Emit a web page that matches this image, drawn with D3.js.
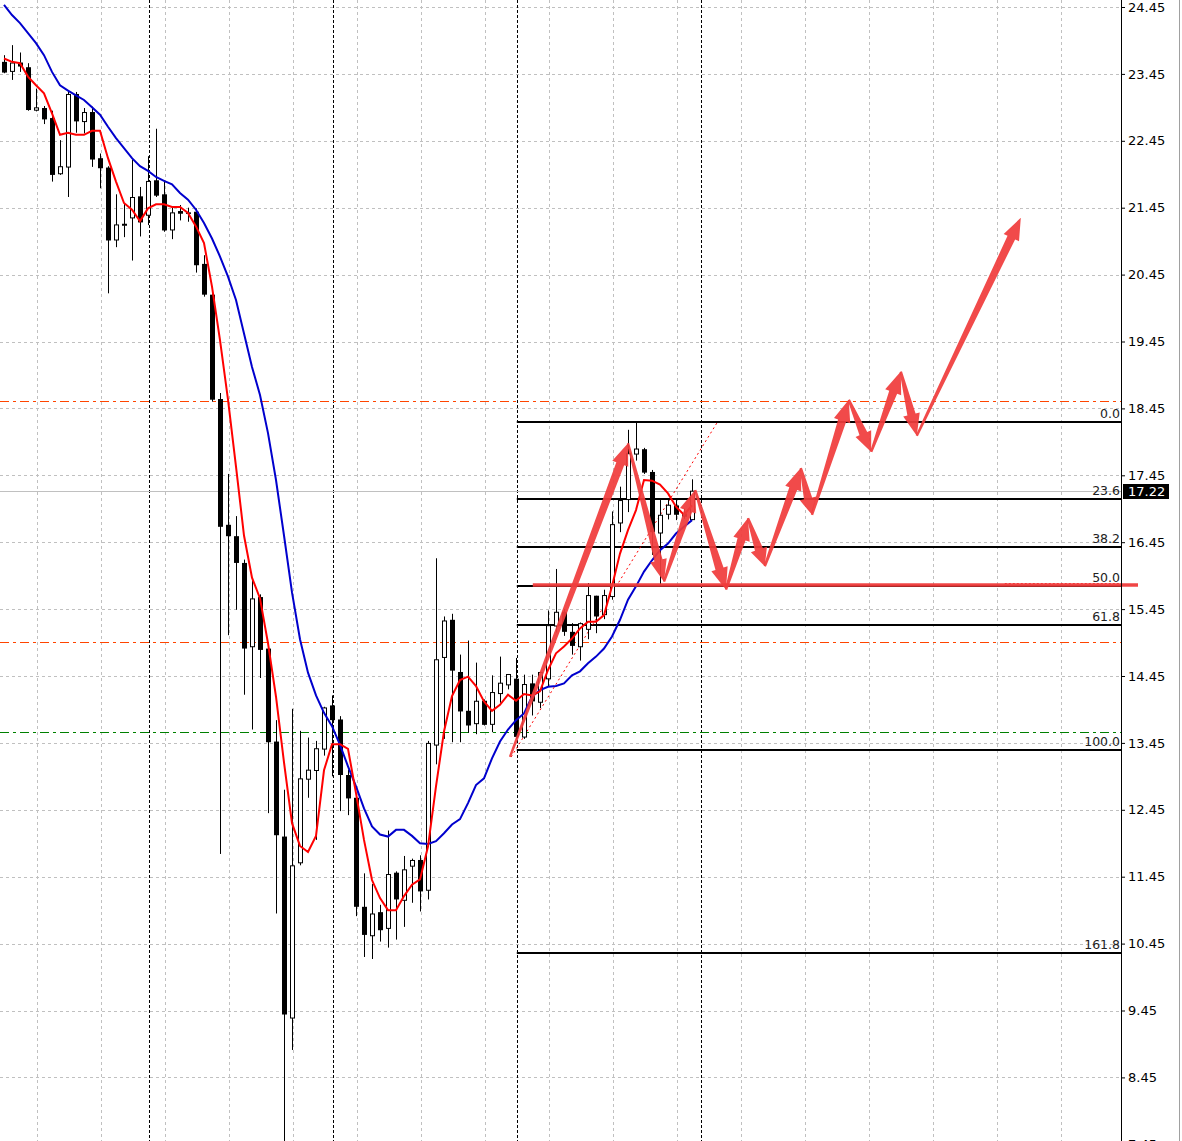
<!DOCTYPE html>
<html><head><meta charset="utf-8">
<script src="https://cdn.jsdelivr.net/npm/d3@7"></script>
<style>html,body{margin:0;padding:0;background:#fff;overflow:hidden}</style>
</head><body><svg id="chart" width="1182" height="1141"></svg>
<script>
// ---- candle data (index 0..86) ----
const openP = [23.63,23.48,23.62,23.55,22.90,22.94,22.79,21.95,22.05,23.15,
  22.73,22.88,22.19,22.05,20.96,21.20,21.29,21.62,21.33,21.86,
  21.65,21.11,21.40,21.38,21.39,20.61,20.15,18.59,16.71,16.54,
  16.14,14.88,15.63,14.86,13.47,12.05,9.33,11.65,12.90,13.03,
  13.35,14.01,13.80,12.97,12.63,11.00,10.56,10.92,10.67,11.51,
  11.09,11.60,11.70,11.24,13.41,14.72,15.29,14.51,13.93,13.73,
  14.08,13.72,14.18,14.31,14.41,13.53,14.34,14.05,14.40,15.19,
  15.41,15.11,14.88,15.14,15.65,15.36,15.63,16.73,17.08,17.76,
  17.84,17.50,16.58,16.86,17.00,16.88,16.78];
const highP = [23.73,23.88,23.77,23.61,23.23,22.97,22.90,22.46,23.21,23.18,
  22.94,22.96,22.26,22.07,21.65,21.51,22.17,21.76,22.22,22.63,
  21.86,21.47,21.49,21.45,21.44,20.74,20.27,18.68,17.47,16.84,
  16.19,15.89,15.67,14.86,13.79,12.75,13.96,13.63,13.53,13.48,
  13.99,14.16,13.85,13.05,12.65,11.50,11.34,11.03,12.14,11.53,
  11.76,11.72,11.77,13.48,16.21,15.34,15.38,14.77,14.98,14.65,
  14.10,14.46,14.74,14.48,14.72,14.47,14.47,14.51,15.43,16.05,
  15.45,15.24,15.25,15.84,15.65,15.74,16.91,17.28,18.13,18.25,
  17.86,17.53,17.08,17.08,17.08,16.95,17.39];
const lowP = [23.46,23.36,23.48,22.90,22.89,22.70,21.84,21.94,21.61,22.57,
  22.56,22.06,21.74,20.17,20.86,21.01,20.66,21.02,21.19,21.61,
  21.09,20.98,21.26,21.24,20.48,20.12,18.55,11.79,15.06,15.44,
  14.17,13.65,14.42,12.40,10.90,7.50,8.86,11.62,12.63,12.00,
  13.26,12.95,12.43,12.37,10.86,10.25,10.22,10.48,10.39,10.51,
  10.70,11.06,10.93,11.11,13.13,13.51,13.46,13.46,13.60,13.58,
  13.71,13.61,14.05,14.25,13.51,13.51,13.86,13.97,14.30,15.10,
  15.05,14.77,14.68,15.00,15.09,15.30,15.59,16.60,16.90,17.67,
  17.47,16.26,15.82,16.79,16.78,16.80,16.78];
const closeP = [23.47,23.62,23.56,22.91,22.95,22.77,21.94,22.07,23.15,22.74,
  22.88,22.17,22.04,20.96,21.20,21.21,21.61,21.23,21.85,21.63,
  21.11,21.38,21.36,21.36,20.59,20.15,18.58,16.68,16.54,16.14,
  14.86,15.61,14.84,13.46,12.07,9.39,11.62,12.92,13.05,13.37,
  13.98,13.79,12.97,12.62,11.00,10.58,10.90,10.65,11.49,11.11,
  11.56,11.70,11.23,13.45,14.70,15.28,14.53,13.92,13.71,14.08,
  13.72,14.21,14.35,14.48,13.54,14.33,14.07,14.51,15.21,15.41,
  15.11,14.90,15.24,15.66,15.34,15.66,16.72,17.08,17.78,17.85,
  17.49,16.60,16.86,17.01,16.86,16.83,17.22];
// ---- moving averages ----
const maFast = [23.68,23.63,23.61,23.41,23.28,23.16,22.86,22.54,22.57,22.54,
  22.54,22.60,22.60,22.19,21.84,21.52,21.42,21.25,21.44,21.50,
  21.50,21.46,21.46,21.37,21.17,20.92,20.27,19.47,18.58,17.58,
  16.55,15.92,15.61,14.94,14.14,13.16,12.25,11.91,11.82,12.06,
  13.04,13.43,13.43,13.36,12.70,12.00,11.40,11.13,10.95,10.95,
  11.16,11.33,11.41,11.90,12.80,13.62,14.15,14.39,14.44,14.30,
  14.07,13.93,14.02,14.17,14.08,14.18,14.16,14.22,14.54,14.79,
  14.89,15.01,15.16,15.26,15.26,15.36,15.79,16.28,16.63,16.93,
  17.38,17.37,17.31,17.18,16.98,16.86,17.00];
const maSlow = [24.48,24.33,24.21,24.06,23.91,23.73,23.48,23.28,23.20,23.13,
  23.06,22.95,22.84,22.66,22.49,22.34,22.19,22.07,22.00,21.91,
  21.85,21.80,21.67,21.57,21.42,21.22,20.99,20.72,20.42,20.07,
  19.57,19.07,18.65,18.08,17.38,16.55,15.70,15.00,14.50,14.16,
  13.90,13.70,13.42,13.10,12.80,12.47,12.20,12.08,12.05,12.15,
  12.15,12.06,11.95,11.94,11.98,12.10,12.23,12.31,12.55,12.82,
  12.92,13.22,13.47,13.65,13.79,13.89,14.14,14.24,14.29,14.30,
  14.34,14.46,14.52,14.64,14.74,14.86,15.04,15.29,15.59,15.79,
  16.01,16.18,16.33,16.43,16.58,16.68,16.78];
// ---- axis / annotation values ----
const priceTicks = [24.45,23.45,22.45,21.45,20.45,19.45,18.45,17.45,16.45,15.45,14.45,13.45,12.45,11.45,10.45,9.45,8.45,7.45];
const separatorIdx = [18,41,64,87];
const fibLevels = [0,23.6,38.2,50,61.8,100,161.8];
const fibLabels = ["0.0","23.6","38.2","50.0","61.8","100.0","161.8"];
const fibHigh = 18.25, fibLow = 13.34, fibStartIdx = 64.1;
const levelValues = [18.56,14.96,13.61];
const levelColors = ["#ff4500","#ff4500","#008000"];
const currentPrice = 17.22;
const trendIdx = [63.4,89.1];
const trendVal = [13.24,18.23];
const pathIdx = [63.25,78,82.5,86.4,90.25,93,95.1,99.6,101,105.6,108.4,112.1,114.1,127.1];
const pathVal = [13.24,17.93,15.86,17.23,15.74,16.81,16.09,17.56,16.86,18.58,17.80,19.0,18.04,21.30];
const redLevel = 15.81, redLevelStartIdx = 66.1, redLevelEndIdx = 141.75;
const markLevel = 15.84, markStartIdx = 125.1;

// ---- drawing ----
const W = 1182, H = 1141, plotR = 1121;
const svg = d3.select("#chart");
const x = d3.scaleLinear().domain([0,86]).range([4,692]);
const y = d3.scaleLinear().domain([24.45,7.45]).range([7,7+17*66.9]);
const px = v => Math.round(v);

svg.append("rect").attr("width",W).attr("height",H).attr("fill","#fff");
const plot = svg.append("g");
svg.append("defs").append("clipPath").attr("id","clip").append("rect")
  .attr("x",0).attr("y",0).attr("width",plotR).attr("height",H);
plot.attr("clip-path","url(#clip)");

// grid horizontal
plot.append("g").selectAll("line").data(priceTicks).join("line")
  .attr("x1",0).attr("x2",plotR)
  .attr("y1",d=>px(y(d))+0.5).attr("y2",d=>px(y(d))+0.5)
  .attr("stroke","#c0c0c0").attr("stroke-dasharray","3,3");
// grid vertical
const gridIdx = d3.range(4,140,8);
plot.append("g").selectAll("line").data(gridIdx).join("line")
  .attr("x1",d=>px(x(d))+1.5).attr("x2",d=>px(x(d))+1.5)
  .attr("y1",0).attr("y2",H)
  .attr("stroke","#c0c0c0").attr("stroke-dasharray","3,3");
// period separators
plot.append("g").selectAll("line").data(separatorIdx).join("line")
  .attr("x1",d=>px(x(d))+1.5).attr("x2",d=>px(x(d))+1.5)
  .attr("y1",0).attr("y2",H)
  .attr("stroke","#000").attr("stroke-dasharray","3,2");
// horizontal levels
plot.append("g").selectAll("line").data(levelValues).join("line")
  .attr("x1",0).attr("x2",plotR)
  .attr("y1",d=>px(y(d))+0.5).attr("y2",d=>px(y(d))+0.5)
  .attr("stroke",(d,i)=>levelColors[i]).attr("stroke-dasharray","9,4,3,4");
// bid line
plot.append("line").attr("x1",0).attr("x2",plotR)
  .attr("y1",px(y(currentPrice))+0.5).attr("y2",px(y(currentPrice))+0.5)
  .attr("stroke","#c0c0c0");

// fibonacci
const fibVal = l => fibHigh - (fibHigh-fibLow)*l/100;
plot.append("g").selectAll("line").data(fibLevels).join("line")
  .attr("x1",x(fibStartIdx)).attr("x2",plotR)
  .attr("y1",d=>px(y(fibVal(d)))).attr("y2",d=>px(y(fibVal(d))))
  .attr("stroke","#000").attr("stroke-width",2);
svg.append("g").selectAll("text").data(fibLevels).join("text")
  .attr("x",plotR-1).attr("y",d=>px(y(fibVal(d)))-4)
  .attr("text-anchor","end")
  .attr("font-family","DejaVu Sans, Verdana, sans-serif").attr("font-size",12.5)
  .attr("fill","#222").text((d,i)=>fibLabels[i]);
// fib trend (dotted red)
plot.append("line")
  .attr("x1",x(trendIdx[0])).attr("y1",y(trendVal[0]))
  .attr("x2",x(trendIdx[1])).attr("y2",y(trendVal[1]))
  .attr("stroke","#ff0000").attr("stroke-dasharray","2,3");
// small dotted mark at 50% label
plot.append("line")
  .attr("x1",x(markStartIdx)).attr("x2",plotR)
  .attr("y1",px(y(markLevel))+0.5).attr("y2",px(y(markLevel))+0.5)
  .attr("stroke","#ff3030").attr("stroke-dasharray","2,2");

// candles
const idx = d3.range(openP.length);
const cg = plot.append("g");
cg.selectAll("line").data(idx).join("line")
  .attr("x1",i=>px(x(i))+0.5).attr("x2",i=>px(x(i))+0.5)
  .attr("y1",i=>y(highP[i])).attr("y2",i=>y(lowP[i]))
  .attr("stroke","#000").attr("stroke-width",1);
cg.selectAll("rect").data(idx).join("rect")
  .attr("x",i=> closeP[i]>=openP[i] ? px(x(i))-1.5 : px(x(i))-2)
  .attr("width",i=> closeP[i]>=openP[i] ? 4 : 5)
  .attr("y",i=>{const t=y(Math.max(openP[i],closeP[i])); return closeP[i]>=openP[i]? t+0.5 : t;})
  .attr("height",i=>{const h=Math.abs(y(openP[i])-y(closeP[i])); return closeP[i]>=openP[i]? Math.max(h-1,1): Math.max(h,1.5);})
  .attr("fill",i=> closeP[i]>=openP[i] ? "#fff" : "#000")
  .attr("stroke",i=> closeP[i]>=openP[i] ? "#000" : "none")
  .attr("stroke-width",1);

// moving averages
const line = d3.line().x((d,i)=>x(i)).y(d=>y(d));
plot.append("path").attr("d",line(maSlow)).attr("fill","none").attr("stroke","#0000cd").attr("stroke-width",2);
plot.append("path").attr("d",line(maFast)).attr("fill","none").attr("stroke","#ff0000").attr("stroke-width",2);

// red 50% level highlight
svg.append("line")
  .attr("x1",x(redLevelStartIdx)).attr("x2",x(redLevelEndIdx))
  .attr("y1",y(redLevel)).attr("y2",y(redLevel))
  .attr("stroke","#f03c3c").attr("stroke-width",3.5).attr("opacity",0.95);

// forecast arrows
function arrowPoly(p0,p1){
  const dx=p1[0]-p0[0], dy=p1[1]-p0[1], L=Math.hypot(dx,dy);
  const ux=dx/L, uy=dy/L, nx=-uy, ny=ux;
  const hl=Math.min(22,L*0.35), hw=8.5, w0=1.2, w1=4.2;
  const bx=p1[0]-ux*hl, by=p1[1]-uy*hl;
  return [[p0[0]+nx*w0,p0[1]+ny*w0],[bx+nx*w1,by+ny*w1],[bx+nx*hw,by+ny*hw],p1,
          [bx-nx*hw,by-ny*hw],[bx-nx*w1,by-ny*w1],[p0[0]-nx*w0,p0[1]-ny*w0]];
}
const pts = pathIdx.map((d,i)=>[x(d),y(pathVal[i])]);
const ag = svg.append("g");
for(let k=0;k<pts.length-1;k++){
  ag.append("polygon").attr("points",arrowPoly(pts[k],pts[k+1]).map(p=>p.join(",")).join(" "))
    .attr("fill","#f03c3c").attr("opacity",0.93);
}

// axis
svg.append("line").attr("x1",plotR+0.5).attr("x2",plotR+0.5).attr("y1",0).attr("y2",H).attr("stroke","#000");
const axis = d3.axisRight(y).tickValues(priceTicks).tickFormat(d3.format(".2f")).tickSize(4).tickPadding(3);
const ax = svg.append("g").attr("transform",`translate(${plotR},0)`).call(axis);
ax.select(".domain").remove();
ax.selectAll("text").attr("font-family","DejaVu Sans, Verdana, sans-serif").attr("font-size",13).attr("fill","#000");
ax.selectAll("line").attr("stroke","#000");
// current price tag
const cy = px(y(currentPrice));
svg.append("rect").attr("x",plotR+2).attr("y",cy-7).attr("width",46).attr("height",15).attr("fill","#000");
svg.append("text").attr("x",plotR+7).attr("y",cy+5).attr("fill","#fff")
  .attr("font-family","DejaVu Sans, Verdana, sans-serif").attr("font-size",13).text(currentPrice.toFixed(2));
// window edge
svg.append("line").attr("x1",1179.5).attr("x2",1179.5).attr("y1",0).attr("y2",H).attr("stroke","#a0a0a0");
</script></body></html>
